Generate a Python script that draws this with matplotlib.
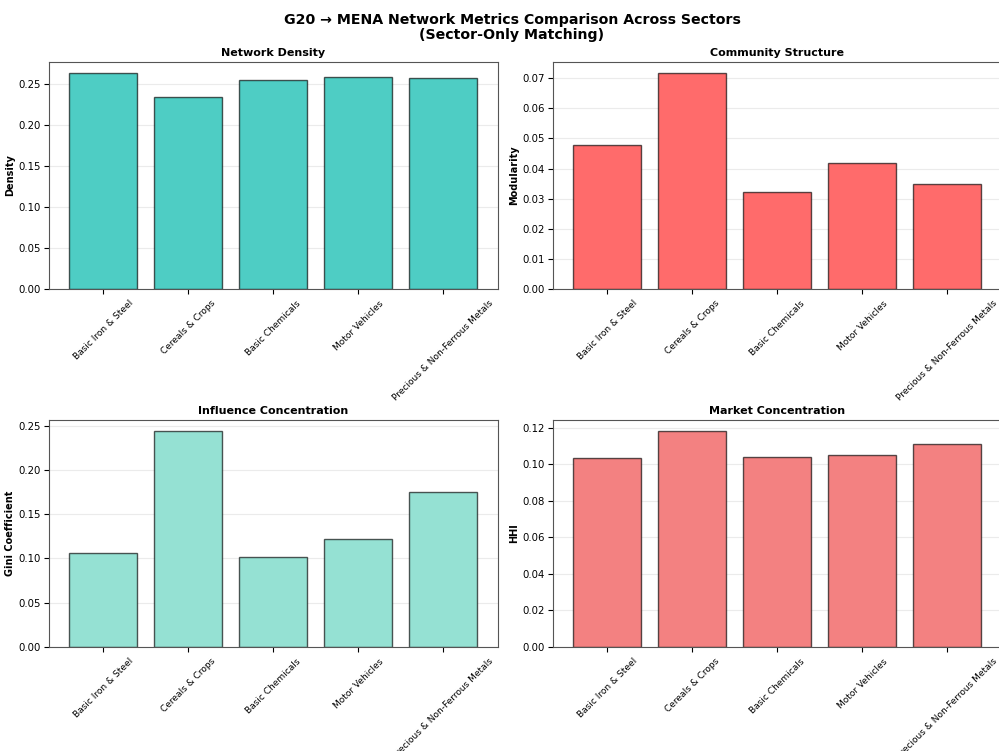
import matplotlib
matplotlib.use("Agg")
import matplotlib.pyplot as plt
import numpy as np

sectors = ['Basic Iron & Steel', 'Cereals & Crops', 'Basic Chemicals',
           'Motor Vehicles', 'Precious & Non-Ferrous Metals']

density = [0.2634, 0.2342, 0.2549, 0.2585, 0.2577]
modularity = [0.0478, 0.0718, 0.0322, 0.0420, 0.0348]
gini = [0.1058, 0.2440, 0.1013, 0.1216, 0.1754]
hhi = [0.1034, 0.1182, 0.1038, 0.1050, 0.1111]

panels = [
    (density, 'Network Density', 'Density', '#4ECDC4'),
    (modularity, 'Community Structure', 'Modularity', '#FF6B6B'),
    (gini, 'Influence Concentration', 'Gini Coefficient', '#95E1D3'),
    (hhi, 'Market Concentration', 'HHI', '#F38181'),
]

fig = plt.figure(figsize=(9.99, 7.51), dpi=100)

# axes boxes (right column runs slightly past the edge, like the cropped original)
boxes = [
    [0.049, 0.6152, 0.449, 0.3022],
    [0.5536, 0.6152, 0.449, 0.3022],
    [0.049, 0.1385, 0.449, 0.3022],
    [0.5536, 0.1385, 0.449, 0.3022],
]

x = np.arange(len(sectors))
for box, (vals, title, ylabel, color) in zip(boxes, panels):
    ax = fig.add_axes(box)
    ax.bar(x, vals, width=0.8, color=color, edgecolor=(0, 0, 0, 0.65),
           linewidth=1.0)
    ax.set_title(title, fontsize=8, fontweight='bold', pad=4)
    ax.set_ylabel(ylabel, fontsize=7, fontweight='bold', labelpad=2)
    ax.set_xticks(x)
    ax.set_xticklabels(sectors, rotation=45, fontsize=6.5)
    ax.tick_params(axis='y', labelsize=7.3, pad=2.5)
    ax.yaxis.grid(True, alpha=0.25)
    ax.set_axisbelow(True)
    for s in ax.spines.values():
        s.set_color('#555555')

fig.suptitle('G20 → MENA Network Metrics Comparison Across Sectors\n(Sector-Only Matching)',
             x=0.5125, y=0.983, fontsize=10.2, fontweight='bold', linespacing=1.1)

fig.savefig('out.png', dpi=100)
